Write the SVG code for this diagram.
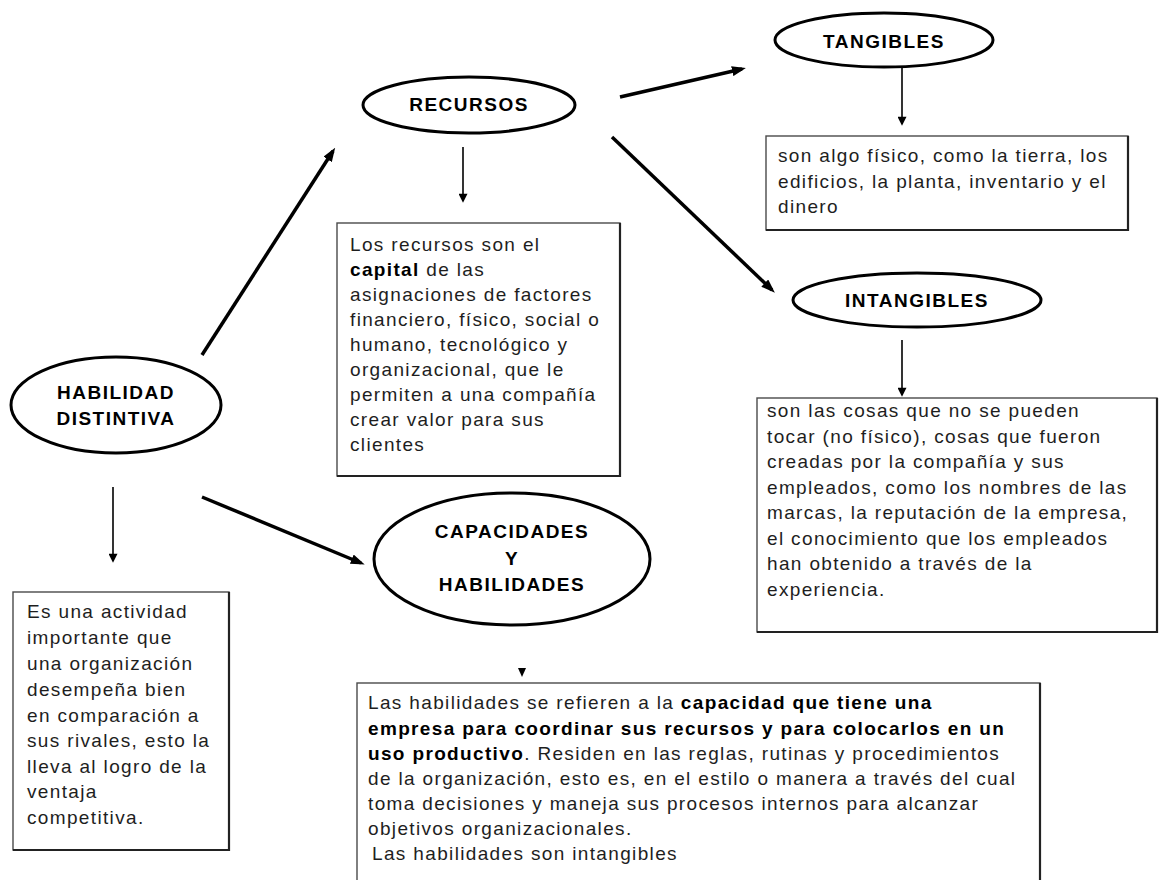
<svg xmlns="http://www.w3.org/2000/svg" width="1159" height="880" viewBox="0 0 1159 880">
  <style>
    .oval { fill: #ffffff; stroke: #000000; stroke-width: 3; }
    .box { fill: #ffffff; stroke: #4a4a4a; stroke-width: 1.4; }
    .edge { fill: none; stroke: #222222; stroke-width: 2.2; }
    .label { font-family: "Liberation Sans", Arial, sans-serif; font-size: 19px; font-weight: bold; letter-spacing: 1.5px; fill: #000000; text-anchor: middle; }
    .body { font-family: "Liberation Sans", Arial, sans-serif; font-size: 19px; letter-spacing: 1.35px; fill: #1e1e1e; }
    .body .b { font-weight: bold; fill: #000000; }
    .thick { stroke: #000000; stroke-width: 3.5; fill: none; marker-end: url(#headBig); }
    .thin { stroke: #000000; stroke-width: 1.6; fill: none; marker-end: url(#headSmall); }
  </style>
  <defs>
    <marker id="headBig" viewBox="0 0 14 10" refX="10" refY="5" markerWidth="14" markerHeight="10" markerUnits="userSpaceOnUse" orient="auto">
      <path d="M0,0 L14,5 L0,10 z" fill="#000000"/>
    </marker>
    <marker id="headSmall" viewBox="0 0 10 10" refX="8" refY="5" markerWidth="10" markerHeight="9" markerUnits="userSpaceOnUse" orient="auto">
      <path d="M0,0 L10,5 L0,10 z" fill="#000000"/>
    </marker>
  </defs>

  <rect width="1159" height="880" fill="#ffffff"/>

  <!-- connectors -->
  <g id="connectors">
    <line class="thick" x1="202" y1="355" x2="333" y2="151"/>
    <line class="thick" x1="620" y1="97" x2="742" y2="69"/>
    <line class="thick" x1="612" y1="137" x2="772" y2="290"/>
    <line class="thick" x1="202" y1="497" x2="361" y2="563"/>
    <line class="thin" x1="463" y1="147" x2="463" y2="201"/>
    <line class="thin" x1="902" y1="68" x2="902" y2="124"/>
    <line class="thin" x1="902" y1="340" x2="902" y2="395"/>
    <line class="thin" x1="113" y1="487" x2="113" y2="561"/>
    <path d="M518,668 L526,668 L522,677 z" fill="#000000"/>
  </g>

  <!-- HABILIDAD DISTINTIVA -->
  <g id="habilidad">
    <ellipse class="oval" cx="116" cy="405" rx="105" ry="48"/>
    <text class="label" x="116" y="399">HABILIDAD</text>
    <text class="label" x="116" y="425">DISTINTIVA</text>
  </g>

  <!-- RECURSOS -->
  <g id="recursos">
    <ellipse class="oval" cx="469" cy="105" rx="106" ry="28"/>
    <text class="label" x="469" y="111">RECURSOS</text>
  </g>

  <!-- TANGIBLES -->
  <g id="tangibles">
    <ellipse class="oval" cx="884" cy="40" rx="109" ry="27"/>
    <text class="label" x="884" y="48">TANGIBLES</text>
  </g>

  <!-- INTANGIBLES -->
  <g id="intangibles">
    <ellipse class="oval" cx="917" cy="300" rx="124" ry="27"/>
    <text class="label" x="917" y="307">INTANGIBLES</text>
  </g>

  <!-- CAPACIDADES Y HABILIDADES -->
  <g id="capacidades">
    <ellipse class="oval" cx="512" cy="559" rx="138" ry="66"/>
    <text class="label" x="512" y="538">CAPACIDADES</text>
    <text class="label" x="512" y="565">Y</text>
    <text class="label" x="512" y="591">HABILIDADES</text>
  </g>

  <!-- definition of recursos -->
  <g id="recursos-texto">
    <rect class="box" x="337" y="223" width="283" height="253"/>
    <polyline class="edge" points="620,223 620,476 337,476"/>
    <text class="body">
      <tspan x="350" y="251">Los recursos son el</tspan>
      <tspan x="350" y="276"><tspan class="b">capital</tspan> de las</tspan>
      <tspan x="350" y="301">asignaciones de factores</tspan>
      <tspan x="350" y="326">financiero, físico, social o</tspan>
      <tspan x="350" y="351">humano, tecnológico y</tspan>
      <tspan x="350" y="376">organizacional, que le</tspan>
      <tspan x="350" y="401">permiten a una compañía</tspan>
      <tspan x="350" y="426">crear valor para sus</tspan>
      <tspan x="350" y="451">clientes</tspan>
    </text>
  </g>

  <!-- definition of tangibles -->
  <g id="tangibles-texto">
    <rect class="box" x="766" y="136" width="362" height="94"/>
    <polyline class="edge" points="1128,136 1128,230 766,230"/>
    <text class="body">
      <tspan x="778" y="162">son algo físico, como la tierra, los</tspan>
      <tspan x="778" y="188">edificios, la planta, inventario y el</tspan>
      <tspan x="778" y="213">dinero</tspan>
    </text>
  </g>

  <!-- definition of intangibles -->
  <g id="intangibles-texto">
    <rect class="box" x="757" y="398" width="400" height="234"/>
    <polyline class="edge" points="1157,398 1157,632 757,632"/>
    <text class="body">
      <tspan x="767" y="417">son las cosas que no se pueden</tspan>
      <tspan x="767" y="443">tocar (no físico), cosas que fueron</tspan>
      <tspan x="767" y="468">creadas por la compañía y sus</tspan>
      <tspan x="767" y="494">empleados, como los nombres de las</tspan>
      <tspan x="767" y="519">marcas, la reputación de la empresa,</tspan>
      <tspan x="767" y="545">el conocimiento que los empleados</tspan>
      <tspan x="767" y="570">han obtenido a través de la</tspan>
      <tspan x="767" y="596">experiencia.</tspan>
    </text>
  </g>

  <!-- definition of habilidad distintiva -->
  <g id="habilidad-texto">
    <rect class="box" x="13" y="592" width="216" height="258"/>
    <polyline class="edge" points="229,592 229,850 13,850"/>
    <text class="body">
      <tspan x="27" y="618">Es una actividad</tspan>
      <tspan x="27" y="644">importante que</tspan>
      <tspan x="27" y="670">una organización</tspan>
      <tspan x="27" y="696">desempeña bien</tspan>
      <tspan x="27" y="722">en comparación a</tspan>
      <tspan x="27" y="747">sus rivales, esto la</tspan>
      <tspan x="27" y="773">lleva al logro de la</tspan>
      <tspan x="27" y="798">ventaja</tspan>
      <tspan x="27" y="824">competitiva.</tspan>
    </text>
  </g>

  <!-- definition of capacidades y habilidades -->
  <g id="capacidades-texto">
    <rect class="box" x="357" y="683" width="683" height="210"/>
    <line class="edge" x1="1040" y1="683" x2="1040" y2="880"/>
    <text class="body">
      <tspan x="368" y="709">Las habilidades se refieren a la <tspan class="b">capacidad que tiene una</tspan></tspan>
      <tspan x="368" y="735" class="b">empresa para coordinar sus recursos y para colocarlos en un</tspan>
      <tspan x="368" y="760"><tspan class="b">uso productivo</tspan>. Residen en las reglas, rutinas y procedimientos</tspan>
      <tspan x="368" y="785">de la organización, esto es, en el estilo o manera a través del cual</tspan>
      <tspan x="368" y="810">toma decisiones y maneja sus procesos internos para alcanzar</tspan>
      <tspan x="368" y="835">objetivos organizacionales.</tspan>
      <tspan x="372" y="860">Las habilidades son intangibles</tspan>
    </text>
  </g>
</svg>
